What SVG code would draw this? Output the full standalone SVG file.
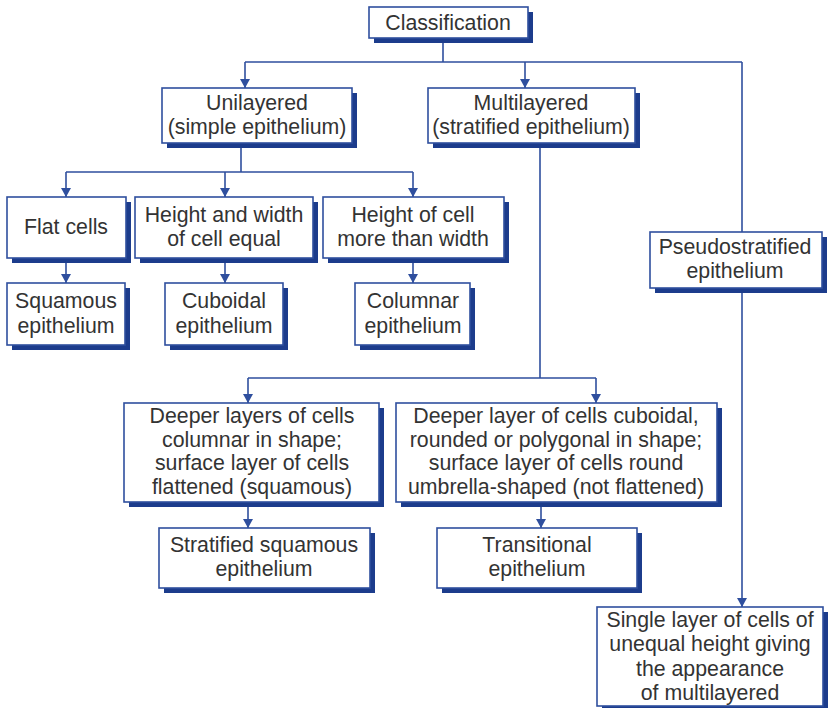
<svg xmlns="http://www.w3.org/2000/svg" width="830" height="708" viewBox="0 0 830 708">
<style>
.sh{fill:#1c3c8c}
.bx{fill:#fff;stroke:#2f4f9e;stroke-width:1.6}
text{font-family:"Liberation Sans",Arial,sans-serif;font-size:21.3px;fill:#333;text-anchor:middle}
.ln{fill:none;stroke:#2f4f9e;stroke-width:1.6}
</style>
<defs>
<marker id="ah" markerWidth="10" markerHeight="9" refX="5" refY="9" orient="0" markerUnits="userSpaceOnUse" viewBox="0 0 10 9">
<path d="M0,0 L10,0 L5,9 Z" fill="#2f4f9e"/>
</marker>
</defs>
<g id="connectors">
<path class="ln" d="M443,40 V62 M245,62 H742"/>
<path class="ln" d="M245,62 V88" marker-end="url(#ah)"/>
<path class="ln" d="M525,62 V88" marker-end="url(#ah)"/>
<path class="ln" d="M742,62 V232"/>
<path class="ln" d="M241,143 V172 M66,172 H413"/>
<path class="ln" d="M66,172 V197" marker-end="url(#ah)"/>
<path class="ln" d="M225,172 V197" marker-end="url(#ah)"/>
<path class="ln" d="M413,172 V197" marker-end="url(#ah)"/>
<path class="ln" d="M66,263 V283" marker-end="url(#ah)"/>
<path class="ln" d="M225,263 V283" marker-end="url(#ah)"/>
<path class="ln" d="M413,263 V283" marker-end="url(#ah)"/>
<path class="ln" d="M540,148 V378 M248,378 H596"/>
<path class="ln" d="M248,378 V403" marker-end="url(#ah)"/>
<path class="ln" d="M596,378 V403" marker-end="url(#ah)"/>
<path class="ln" d="M248,507 V528" marker-end="url(#ah)"/>
<path class="ln" d="M541,507 V528" marker-end="url(#ah)"/>
<path class="ln" d="M742,292 V607" marker-end="url(#ah)"/>
</g>
<g id="classification">
<rect class="sh" x="374" y="12" width="159" height="31"/>
<rect class="bx" x="369" y="7" width="159" height="31"/>
<text x="448" y="30">Classification</text>
</g>
<g id="unilayered">
<rect class="sh" x="167" y="93" width="190" height="55"/>
<rect class="bx" x="162" y="88" width="190" height="55"/>
<text x="257" y="110">Unilayered</text>
<text x="257" y="134">(simple epithelium)</text>
</g>
<g id="multilayered">
<rect class="sh" x="433" y="93" width="207" height="55"/>
<rect class="bx" x="428" y="88" width="207" height="55"/>
<text x="531" y="110">Multilayered</text>
<text x="531" y="134">(stratified epithelium)</text>
</g>
<g id="flat">
<rect class="sh" x="12" y="202" width="119" height="61"/>
<rect class="bx" x="7" y="197" width="119" height="61"/>
<text x="66" y="234">Flat cells</text>
</g>
<g id="equal">
<rect class="sh" x="140" y="202" width="178" height="61"/>
<rect class="bx" x="135" y="197" width="178" height="61"/>
<text x="224" y="222">Height and width</text>
<text x="224" y="246">of cell equal</text>
</g>
<g id="more">
<rect class="sh" x="328" y="202" width="181" height="61"/>
<rect class="bx" x="323" y="197" width="181" height="61"/>
<text x="413" y="222">Height of cell</text>
<text x="413" y="246">more than width</text>
</g>
<g id="squamous">
<rect class="sh" x="12" y="288" width="118" height="62"/>
<rect class="bx" x="7" y="283" width="118" height="62"/>
<text x="66" y="308">Squamous</text>
<text x="66" y="333">epithelium</text>
</g>
<g id="cuboidal">
<rect class="sh" x="170" y="288" width="118" height="62"/>
<rect class="bx" x="165" y="283" width="118" height="62"/>
<text x="224" y="308">Cuboidal</text>
<text x="224" y="333">epithelium</text>
</g>
<g id="columnar">
<rect class="sh" x="360" y="288" width="115" height="62"/>
<rect class="bx" x="355" y="283" width="115" height="62"/>
<text x="413" y="308">Columnar</text>
<text x="413" y="333">epithelium</text>
</g>
<g id="pseudostratified">
<rect class="sh" x="655" y="237" width="172" height="56"/>
<rect class="bx" x="650" y="232" width="172" height="56"/>
<text x="735" y="254">Pseudostratified</text>
<text x="735" y="278">epithelium</text>
</g>
<g id="deeper-columnar">
<rect class="sh" x="129" y="408" width="255" height="99"/>
<rect class="bx" x="124" y="403" width="255" height="99"/>
<text x="252" y="423">Deeper layers of cells</text>
<text x="252" y="447">columnar in shape;</text>
<text x="252" y="470">surface layer of cells</text>
<text x="252" y="494">flattened (squamous)</text>
</g>
<g id="deeper-cuboidal">
<rect class="sh" x="401" y="408" width="321" height="99"/>
<rect class="bx" x="396" y="403" width="321" height="99"/>
<text x="556" y="423">Deeper layer of cells cuboidal,</text>
<text x="556" y="447">rounded or polygonal in shape;</text>
<text x="556" y="470">surface layer of cells round</text>
<text x="556" y="494">umbrella-shaped (not flattened)</text>
</g>
<g id="stratified-squamous">
<rect class="sh" x="164" y="533" width="211" height="60"/>
<rect class="bx" x="159" y="528" width="211" height="60"/>
<text x="264" y="552">Stratified squamous</text>
<text x="264" y="576">epithelium</text>
</g>
<g id="transitional">
<rect class="sh" x="442" y="533" width="200" height="60"/>
<rect class="bx" x="437" y="528" width="200" height="60"/>
<text x="537" y="552">Transitional</text>
<text x="537" y="576">epithelium</text>
</g>
<g id="single-layer">
<rect class="sh" x="602" y="612" width="226" height="100"/>
<rect class="bx" x="597" y="607" width="226" height="99"/>
<text x="710" y="627">Single layer of cells of</text>
<text x="710" y="651">unequal height giving</text>
<text x="710" y="676">the appearance</text>
<text x="710" y="700">of multilayered</text>
</g>
</svg>
